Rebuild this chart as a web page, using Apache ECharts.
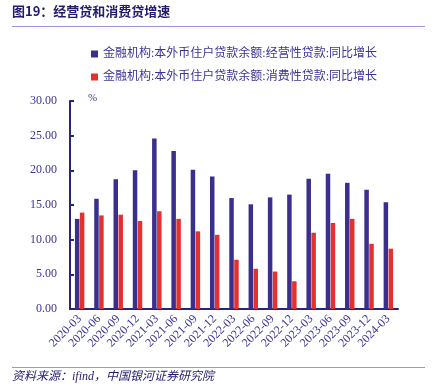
<!DOCTYPE html>
<html>
<head>
<meta charset="utf-8">
<script src="https://cdn.jsdelivr.net/npm/echarts@6/dist/echarts.min.js"></script>
<style>
  html, body { margin: 0; padding: 0; background: #fff; }
  #chart { width: 437px; height: 391px; }
</style>
</head>
<body>
<div id="chart"></div>
<script>
// 季度
var quarters = ['2020-03','2020-06','2020-09','2020-12','2021-03','2021-06','2021-09','2021-12',
  '2022-03','2022-06','2022-09','2022-12','2023-03','2023-06','2023-09','2023-12','2024-03'];
// 经营性贷款 同比
var bizLoan = [13.0, 15.9, 18.7, 20.0, 24.6, 22.8, 20.1, 19.1, 16.0, 15.1, 16.1, 16.5, 18.8, 19.5, 18.2, 17.2, 15.4];
// 消费性贷款 同比
var consLoan = [13.9, 13.5, 13.6, 12.7, 14.1, 13.0, 11.2, 10.7, 7.1, 5.8, 5.4, 4.0, 11.0, 12.4, 13.0, 9.4, 8.7];
var yTicks = [0, 5, 10, 15, 20, 25, 30];

var navy = '#2a2478';
var textBlue = '#3a3496';
var font = '"Liberation Serif", "Noto Sans CJK SC", serif';

var chart = echarts.init(document.getElementById('chart'));
var option = {
  backgroundColor: '#fff',
  animation: false,
  textStyle: { fontFamily: font },
  graphic: [
    { type: 'text', left: 12, top: 5, style: { text: '图19：经营贷和消费贷增速', font: 'bold 13px "Noto Sans CJK SC"', fill: '#231c6e' } },
    { type: 'line', shape: { x1: 12, y1: 26.5, x2: 425, y2: 26.5 }, style: { stroke: '#9b96cf', lineWidth: 1 } },
    { type: 'text', left: 88, top: 93, style: { text: '%', font: '11px "Liberation Serif"', fill: textBlue } },
    { type: 'line', shape: { x1: 12, y1: 367.5, x2: 425, y2: 367.5 }, style: { stroke: '#9b96cf', lineWidth: 1 } },
    { type: 'text', left: 12, top: 371, style: { text: '资料来源：ifind，中国银河证券研究院', font: 'italic 12px "Liberation Serif", "Noto Sans CJK SC"', fill: '#231c6e' } }
  ],
  legend: {
    orient: 'vertical',
    left: 86,
    top: 43,
    itemWidth: 7,
    itemHeight: 7,
    itemGap: 11,
    icon: 'rect',
    textStyle: { color: textBlue, fontSize: 12, fontFamily: font },
    data: ['金融机构:本外币住户贷款余额:经营性贷款:同比增长', '金融机构:本外币住户贷款余额:消费性贷款:同比增长']
  },
  grid: { left: 70, right: 39, top: 101, bottom: 82 },
  xAxis: {
    type: 'category',
    data: quarters,
    axisLine: { lineStyle: { color: navy, width: 2 } },
    axisTick: { inside: true, length: 4, lineStyle: { color: navy, width: 2 } },
    axisLabel: { rotate: 45, margin: 8, color: textBlue, fontSize: 12, fontFamily: font, interval: 0 }
  },
  yAxis: {
    type: 'value',
    min: 0,
    max: 30,
    interval: 5,
    splitLine: { show: false },
    axisLine: { show: true, lineStyle: { color: navy, width: 2 } },
    axisTick: { show: true, inside: true, length: 4, lineStyle: { color: navy, width: 2 } },
    axisLabel: {
      margin: 13, color: textBlue, fontSize: 12, fontFamily: font,
      formatter: function (v) { return yTicks.indexOf(v) >= 0 ? v.toFixed(2) : ''; }
    }
  },
  series: [
    { name: '金融机构:本外币住户贷款余额:经营性贷款:同比增长', type: 'bar', data: bizLoan,
      barWidth: 4.5, barGap: '10%', itemStyle: { color: '#3a2f8c' } },
    { name: '金融机构:本外币住户贷款余额:消费性贷款:同比增长', type: 'bar', data: consLoan,
      barWidth: 4.5, itemStyle: { color: '#e3312f' } }
  ]
};
chart.setOption(option);
</script>
</body>
</html>
